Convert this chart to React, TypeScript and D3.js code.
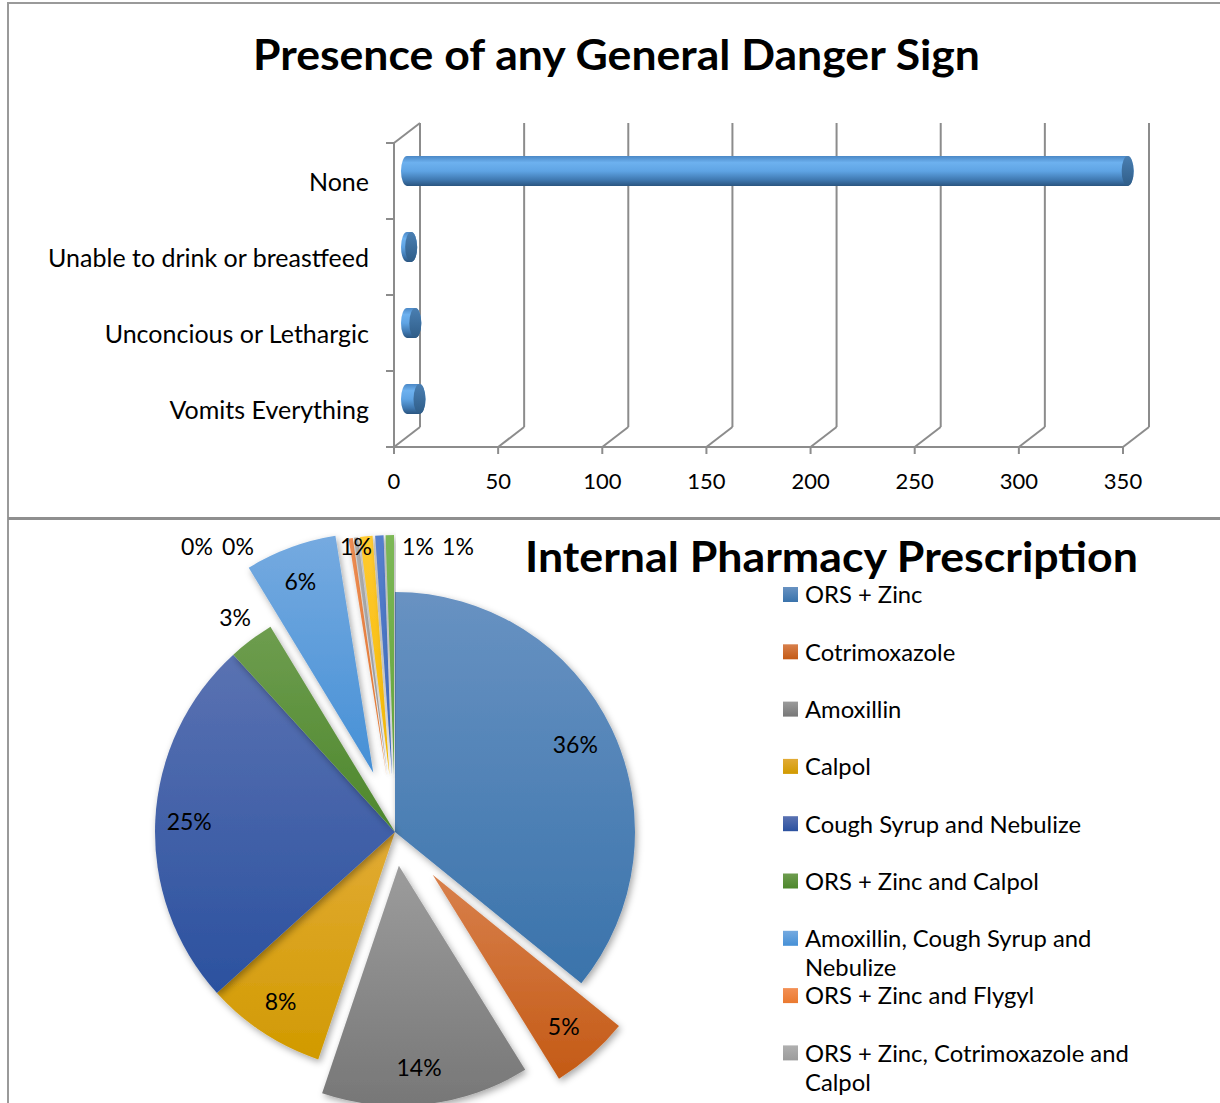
import * as d3 from "d3";
import React from "react";

// ---- data ----
const dangerSigns = ["None", "Unable to drink or breastfeed", "Unconcious or Lethargic", "Vomits Everything"];
const dangerCounts = [346, 2, 4, 6];
const dangerTicks = [0, 50, 100, 150, 200, 250, 300, 350];

const pharmacyLegend = [
  "ORS + Zinc",
  "Cotrimoxazole",
  "Amoxillin",
  "Calpol",
  "Cough Syrup and Nebulize",
  "ORS + Zinc and Calpol",
  "Amoxillin, Cough Syrup and Nebulize",
  "ORS + Zinc and Flygyl",
  "ORS + Zinc, Cotrimoxazole and Calpol",
];
const pharmacyCounts = [128, 19, 50, 29, 89, 11, 22, 1, 1, 3, 2, 2];
const pharmacyColors = [
  ["#6892c2", "#3a73ab"],
  ["#d8804c", "#c45a15"],
  ["#9c9c9c", "#777777"],
  ["#e2ab35", "#d19a00"],
  ["#5a72b2", "#2b519f"],
  ["#6e9d4f", "#4d872c"],
  ["#75aae0", "#4690d6"],
  ["#f39055", "#ea7a30"],
  ["#b0b0b0", "#9c9c9c"],
  ["#ffca30", "#f5b800"],
  ["#5680cc", "#3d68bb"],
  ["#7db857", "#62a23a"],
];
// how far each slice is pulled out of the pie (px)
const explode = [0, 57, 34, 0, 0, 0, 63, 57, 57, 57, 57, 57];

const FONT = "Lato, 'Open Sans', sans-serif";

function Border() {
  return (
    <g stroke="#9a9a9a" strokeWidth={2} fill="none">
      <line x1={8} y1={3} x2={1220} y2={3} />
      <line x1={8} y1={2} x2={8} y2={1103} />
      <line x1={8} y1={518.5} x2={1220} y2={518.5} stroke="#8f8f8f" strokeWidth={3} />
    </g>
  );
}

function DangerChart() {
  const x = d3.scaleLinear().domain([0, 350]).range([394, 1123]);
  const y = d3.scaleBand<string>().domain(dangerSigns).range([143, 447]);
  const dx = 26, dy = -20; // depth of the 3d box
  const axisColor = "#8c8c8c";
  const bw = y.bandwidth();
  const ry = 15, rx = 6;

  return (
    <g fontFamily={FONT}>
      <defs>
        <linearGradient id="cyl" x1="0" y1="0" x2="0" y2="1">
          <stop offset="0%" stopColor="#4b88c6" />
          <stop offset="22%" stopColor="#6db1ef" />
          <stop offset="50%" stopColor="#5fa4e4" />
          <stop offset="80%" stopColor="#3f78b0" />
          <stop offset="100%" stopColor="#2a5580" />
        </linearGradient>
        <linearGradient id="cap" x1="0" y1="0" x2="0" y2="1">
          <stop offset="0%" stopColor="#4a7fb2" />
          <stop offset="100%" stopColor="#2f5d88" />
        </linearGradient>
      </defs>
      <text x={616.5} y={70} textAnchor="middle" fontSize={42} fontWeight="bold"
        textLength={727} lengthAdjust="spacingAndGlyphs">
        Presence of any General Danger Sign
      </text>

      {/* grid walls */}
      <g stroke={axisColor} strokeWidth={2} fill="none">
        {dangerTicks.map((t) => (
          <g key={t}>
            <line x1={x(t) + dx} y1={y.range()[0] + dy} x2={x(t) + dx} y2={y.range()[1] + dy} />
            <line x1={x(t)} y1={y.range()[1]} x2={x(t) + dx} y2={y.range()[1] + dy} />
            <line x1={x(t)} y1={y.range()[1]} x2={x(t)} y2={y.range()[1] + 7} />
          </g>
        ))}
        <line x1={x(0)} y1={y.range()[1]} x2={x(350)} y2={y.range()[1]} />
        <line x1={x(0)} y1={y.range()[0]} x2={x(0)} y2={y.range()[1]} />
        <line x1={x(0)} y1={y.range()[0]} x2={x(0) + dx} y2={y.range()[0] + dy} />
        {[...dangerSigns.map((c) => y(c)!), y.range()[1]].map((v, i) => (
          <line key={i} x1={x(0) - 8} y1={v} x2={x(0)} y2={v} />
        ))}
      </g>

      {/* cylinders */}
      {dangerSigns.map((c, i) => {
        const cy = y(c)! + bw / 2 + dy / 2;
        const x0 = x(0) + dx / 2;
        const x1 = x(dangerCounts[i]) + dx / 2;
        const body = `M${x0},${cy - ry} L${x1},${cy - ry} A${rx},${ry} 0 0 1 ${x1},${cy + ry} L${x0},${cy + ry} A${rx},${ry} 0 0 1 ${x0},${cy - ry} Z`;
        return (
          <g key={c}>
            <path d={body} fill="url(#cyl)" />
            <ellipse cx={x1} cy={cy} rx={rx} ry={ry} fill="url(#cap)" />
          </g>
        );
      })}

      {/* labels */}
      {dangerSigns.map((c) => (
        <text key={c} x={369} y={y(c)! + bw / 2 + 1} dy="0.35em" textAnchor="end" fontSize={25}>
          {c}
        </text>
      ))}
      {dangerTicks.map((t) => (
        <text key={t} x={x(t)} y={481} dy="0.35em" textAnchor="middle" fontSize={22}>
          {t}
        </text>
      ))}
    </g>
  );
}

function wrap(label: string, maxChars: number) {
  const words = label.split(" ");
  const lines: string[] = [];
  let cur = "";
  words.forEach((w) => {
    const next = cur ? cur + " " + w : w;
    if (next.length > maxChars && cur) {
      lines.push(cur);
      cur = w;
    } else cur = next;
  });
  if (cur) lines.push(cur);
  return lines;
}

function PharmacyChart() {
  const cx = 395, cy = 832, R = 240;
  const total = d3.sum(pharmacyCounts);
  const pie = d3.pie<number>().sort(null).value((d) => d)(pharmacyCounts);
  const arc = d3.arc<d3.PieArcDatum<number>>().innerRadius(0).outerRadius(R);
  const pct = (v: number) => `${Math.round((v / total) * 100)}%`;
  const shift = (a: d3.PieArcDatum<number>, r: number) => {
    const m = (a.startAngle + a.endAngle) / 2;
    return [Math.sin(m) * r, -Math.cos(m) * r];
  };
  // label placement for the thin slices lined up above the pie
  const smallLabelDx: Record<number, number> = { 7: -198, 8: -157, 9: -39, 10: 23, 11: 63 };
  const legendY = d3.scaleLinear().domain([0, 1]).range([595, 652.3]);

  return (
    <g fontFamily={FONT}>
      <defs>
        {pharmacyColors.map((c, i) => (
          <linearGradient key={i} id={`sl${i}`} x1="0" y1="0" x2="0" y2="1">
            <stop offset="0%" stopColor={c[0]} />
            <stop offset="100%" stopColor={c[1]} />
          </linearGradient>
        ))}
        <filter id="shadow" x="-20%" y="-20%" width="140%" height="140%">
          <feDropShadow dx={2} dy={3} stdDeviation={3.5} floodColor="#000" floodOpacity={0.35} />
        </filter>
      </defs>

      <g transform={`translate(${cx},${cy})`}>
        {pie.map((a, i) => {
          const [ox, oy] = shift(a, explode[i]);
          return (
            <path key={i} d={arc(a)!} transform={`translate(${ox},${oy})`}
              fill={`url(#sl${i})`} filter="url(#shadow)" />
          );
        })}
        {pie.map((a, i) => {
          const [ox, oy] = shift(a, explode[i]);
          let lx: number, ly: number;
          if (i in smallLabelDx) {
            lx = smallLabelDx[i];
            ly = -285;
          } else if (a.value / total < 0.05) {
            [lx, ly] = shift(a, 267);
          } else {
            const [px, py] = shift(a, 203);
            lx = px + ox - 3;
            ly = py + oy;
          }
          return (
            <text key={i} x={lx} y={ly} dy="0.35em" textAnchor="middle" fontSize={23}>
              {pct(a.value)}
            </text>
          );
        })}
      </g>

      <text x={831.5} y={572} textAnchor="middle" fontSize={42} fontWeight="bold"
        textLength={613} lengthAdjust="spacingAndGlyphs">
        Internal Pharmacy Prescription
      </text>

      {pharmacyLegend.map((l, i) => {
        const yy = legendY(i);
        const lines = wrap(l, 31);
        return (
          <g key={l}>
            <rect x={783} y={yy - 8} width={15} height={15} fill={`url(#sl${i})`} />
            {lines.map((ln, j) => (
              <text key={j} x={805} y={yy + j * 29} dy="0.35em" fontSize={23.8}>
                {ln}
              </text>
            ))}
          </g>
        );
      })}
    </g>
  );
}

export default function App() {
  return (
    <svg width={1220} height={1103} style={{ position: "absolute", left: 0, top: 0, background: "#fff" }}>
      <rect width={1220} height={1103} fill="#fff" />
      <DangerChart />
      <Border />
      <PharmacyChart />
    </svg>
  );
}
